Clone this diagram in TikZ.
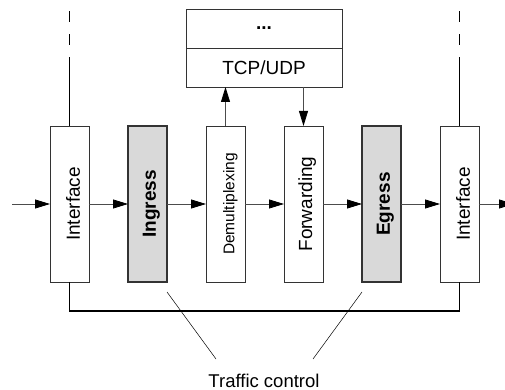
\documentclass[tikz,border=0pt]{standalone}
\usepackage{fontspec}
\setmainfont{Liberation Sans}
\usepackage{graphicx}
\usetikzlibrary{positioning,arrows.meta}
\tikzset{stage/.style={draw=black!80, line width=0.8pt, outer sep=0pt, minimum width=39pt, minimum height=156pt, inner sep=0pt, font=\fontsize{19}{22}\selectfont}}
\tikzset{tcstage/.style={stage, fill=black!15, line width=1.6pt, font=\fontsize{19}{22}\selectfont\bfseries}}
\tikzset{layer/.style={draw=black!80, line width=0.8pt, outer sep=0pt, minimum width=156pt, minimum height=39pt, inner sep=0pt, font=\fontsize{19}{22}\selectfont}}
\tikzset{flow/.style={draw=black!70, line width=0.8pt, -{Triangle[length=15pt,width=9pt,color=black]}}}
\tikzset{wire/.style={line width=1.8pt}}
\tikzset{pointer/.style={line width=0.5pt}}
\newcommand{\vlabel}[1]{\rotatebox{90}{\rule{0pt}{21pt}#1}}

\begin{document}
\begin{tikzpicture}[x=1pt,y=1pt]
    \useasboundingbox (0,0) rectangle (505,390);
    % stages of the data path
    \node[stage] (if1) at (69.5,186) {\vlabel{Interface}};
    \node[tcstage, right= 39pt of if1] (ingress) {\vlabel{Ingress}};
    \node[stage, right= 39pt of ingress, font=\fontsize{15.5}{18}\selectfont] (demux) {\vlabel{Demultiplexing}};
    \node[stage, right= 39pt of demux] (fwd) {\vlabel{Forwarding}};
    \node[tcstage, right= 39pt of fwd] (egress) {\vlabel{Egress}};
    \node[stage, right= 39pt of egress] (if2) {\vlabel{Interface}};

    % upper layers
    \node[layer] (tcp) at (264,322.5) {TCP/UDP};
    \node[layer, above= 0pt of tcp, font=\fontsize{19}{22}\selectfont\bfseries] (upper) {...};

    \node[font=\fontsize{18.5}{22}\selectfont] (tclabel) at (264,9) {Traffic control};

    \coordinate (in)  at (12,186);
    \coordinate (out) at (514,186);
    \coordinate (up1) at (69.5,322);
    \coordinate (top1) at (69.5,381);
    \coordinate (up2) at (459.5,322);
    \coordinate (top2) at (459.5,381);
    \coordinate (tip1) at (216,31);
    \coordinate (tip2) at (313,31);

    \draw[flow] (in) to (if1);
    \draw[flow] (if1) to (ingress);
    \draw[flow] (ingress) to (demux);
    \draw[flow] (demux) to (fwd);
    \draw[flow] (fwd) to (egress);
    \draw[flow] (egress) to (if2);
    \draw[flow] (if2) to (out);
    \draw[flow] (demux.north) to (demux.north |- tcp.south);
    \draw[flow] (fwd.north |- tcp.south) to (fwd.north);

    \draw[wire] (if1.north) -- (up1);
    \draw[wire, dash pattern=on 11pt off 12pt] (up1) -- (top1);
    \draw[wire] (if2.north) -- (up2);
    \draw[wire, dash pattern=on 11pt off 12pt] (up2) -- (top2);
    \draw[wire] (if1.south) -- ++(0,-29) -| (if2.south);

    \draw[pointer] ([yshift=-10pt]ingress.south east) -- (tip1);
    \draw[pointer] ([yshift=-10pt]egress.south west) -- (tip2);
\end{tikzpicture}
\end{document}
